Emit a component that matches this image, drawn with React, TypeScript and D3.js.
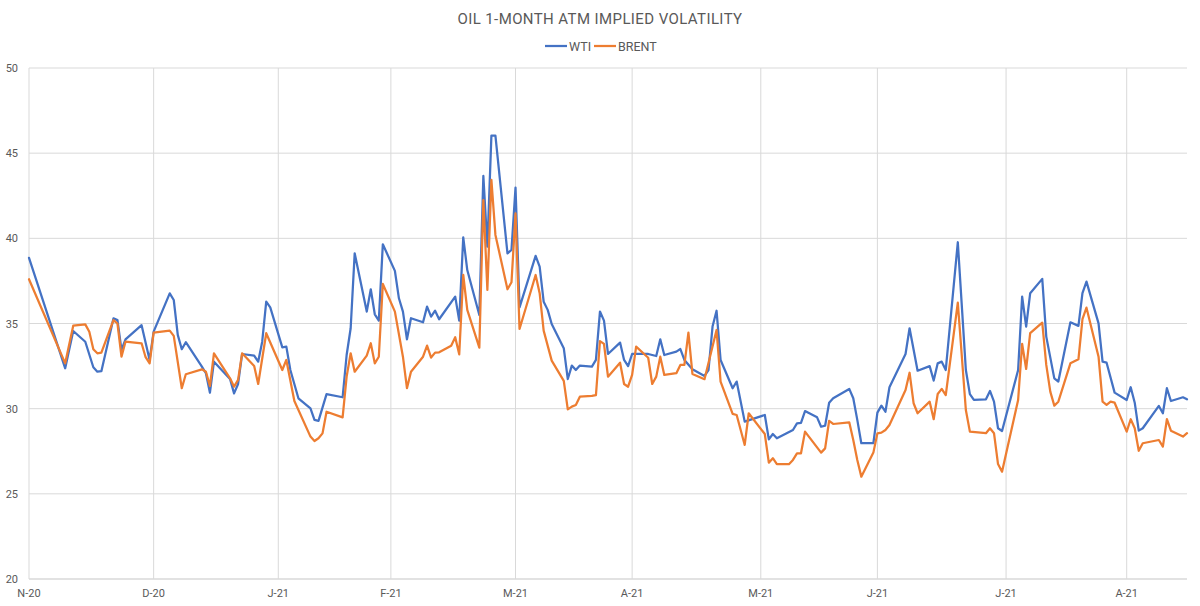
import React from "react";
import * as d3 from "d3";

// Trading-day offsets (calendar days from 1 Nov 2020) paired with 1M ATM implied vol, %
const WTI: [number, number][] = [
  [0, 38.85], [9, 32.37], [11, 34.56], [14, 33.93], [16, 32.43], [17, 32.17], [18, 32.2], [21, 35.3], [22, 35.2],
  [23, 33.45], [24, 34.07], [28, 34.9], [30, 32.86], [31, 34.52], [35, 36.77], [36, 36.38], [37, 34.33], [38, 33.49],
  [39, 33.9], [43, 32.47], [44, 32.08], [45, 30.94], [46, 32.76], [50, 31.74], [51, 30.9], [52, 31.45], [53, 33.21],
  [56, 33.11], [57, 32.76], [58, 33.93], [59, 36.28], [60, 35.95], [63, 33.6], [64, 33.64], [65, 32.27], [67, 30.61],
  [70, 30.02], [71, 29.34], [72, 29.28], [74, 30.85], [78, 30.67], [79, 33.15], [80, 34.72], [81, 39.12], [84, 35.7],
  [85, 37.01], [86, 35.54], [87, 35.17], [88, 39.65], [91, 38.09], [92, 36.48], [93, 35.7], [94, 34.07], [95, 35.31],
  [98, 35.07], [99, 35.99], [100, 35.4], [101, 35.75], [102, 35.25], [106, 36.58], [107, 35.17], [108, 40.06],
  [109, 38.14], [112, 35.5], [113, 43.66], [114, 39.51], [115, 46.03], [116, 46.03], [119, 39.12], [120, 39.32],
  [121, 42.98], [122, 35.95], [126, 38.97], [127, 38.34], [128, 36.28], [129, 35.8], [130, 34.97], [133, 33.55],
  [134, 31.74], [135, 32.53], [136, 32.27], [137, 32.53], [140, 32.47], [141, 32.86], [142, 35.7], [143, 35.17],
  [144, 33.21], [147, 33.88], [148, 32.86], [149, 32.5], [150, 33.21], [154, 33.21], [156, 33.09], [157, 34.07],
  [158, 33.15], [161, 33.35], [162, 33.5], [163, 32.86], [165, 32.31], [168, 31.92], [169, 32.27], [170, 34.82],
  [171, 35.75], [172, 32.86], [175, 31.2], [176, 31.59], [178, 29.24], [183, 29.63], [184, 28.2], [185, 28.51],
  [186, 28.26], [190, 28.75], [191, 29.14], [192, 29.17], [193, 29.86], [196, 29.49], [197, 28.94], [198, 29.0],
  [199, 30.35], [200, 30.61], [204, 31.16], [205, 30.61], [206, 29.34], [207, 27.97], [210, 27.97], [211, 29.77],
  [212, 30.18], [213, 29.82], [214, 31.26], [218, 33.21], [219, 34.72], [221, 32.23], [224, 32.5], [225, 31.65],
  [226, 32.66], [227, 32.76], [228, 32.27], [231, 39.77], [233, 32.27], [234, 30.85], [235, 30.51], [238, 30.55],
  [239, 31.04], [240, 30.41], [241, 28.85], [242, 28.69], [246, 32.27], [247, 36.58], [248, 34.82], [249, 36.78],
  [252, 37.62], [253, 34.23], [255, 31.78], [256, 31.59], [259, 35.07], [261, 34.86], [262, 36.78], [263, 37.46],
  [266, 35.01], [267, 32.76], [268, 32.7], [270, 30.94], [273, 30.51], [274, 31.26], [275, 30.35], [276, 28.71],
  [277, 28.85], [281, 30.16], [282, 29.73], [283, 31.2], [284, 30.45], [287, 30.67], [288, 30.55],
];

const BRENT: [number, number][] = [
  [0, 37.6], [9, 32.66], [11, 34.87], [14, 34.95], [15, 34.52], [16, 33.49], [17, 33.25], [18, 33.29], [21, 35.2],
  [22, 35.0], [23, 33.05], [24, 33.93], [28, 33.84], [29, 33.02], [30, 32.66], [31, 34.47], [35, 34.58], [36, 34.27],
  [38, 31.2], [39, 32.02], [43, 32.31], [44, 32.17], [45, 31.33], [46, 33.25], [50, 31.78], [51, 31.29], [52, 31.69],
  [53, 33.25], [56, 32.5], [57, 31.45], [59, 34.43], [63, 32.27], [64, 32.86], [66, 30.45], [70, 28.36], [71, 28.1],
  [72, 28.26], [73, 28.55], [74, 29.82], [78, 29.49], [79, 31.88], [80, 33.25], [81, 32.17], [84, 33.11], [85, 33.84],
  [86, 32.66], [87, 33.05], [88, 37.32], [91, 35.7], [93, 33.05], [94, 31.2], [95, 32.17], [98, 33.05], [99, 33.7],
  [100, 33.0], [101, 33.29], [102, 33.31], [105, 33.7], [106, 34.19], [107, 33.19], [108, 37.85], [109, 35.8],
  [112, 33.58], [113, 42.25], [114, 36.97], [115, 43.43], [116, 40.2], [119, 37.01], [120, 37.42], [121, 41.47],
  [122, 34.68], [126, 37.85], [127, 36.78], [128, 34.58], [130, 32.82], [133, 31.63], [134, 29.96], [135, 30.12],
  [136, 30.22], [137, 30.7], [140, 30.75], [141, 30.79], [142, 33.97], [143, 33.8], [144, 31.88], [147, 32.7],
  [148, 31.45], [149, 31.29], [150, 31.98], [151, 33.64], [154, 32.99], [155, 31.45], [156, 31.88], [157, 33.05],
  [158, 31.98], [161, 32.08], [162, 32.57], [163, 32.57], [164, 34.47], [165, 32.04], [168, 31.73], [171, 34.62],
  [172, 31.59], [175, 29.69], [176, 29.63], [178, 27.87], [179, 29.73], [183, 28.51], [184, 26.83], [185, 27.09],
  [186, 26.74], [189, 26.74], [190, 26.99], [191, 27.38], [192, 27.38], [193, 28.65], [197, 27.42], [198, 27.67],
  [199, 29.29], [200, 29.1], [204, 29.2], [205, 28.16], [206, 26.99], [207, 26.01], [210, 27.42], [211, 28.55],
  [212, 28.59], [213, 28.75], [214, 29.04], [218, 31.1], [219, 32.11], [220, 30.32], [221, 29.73], [224, 30.41],
  [225, 29.38], [226, 30.86], [227, 31.16], [228, 30.8], [231, 36.22], [233, 29.92], [234, 28.65], [238, 28.56],
  [239, 28.85], [240, 28.56], [241, 26.75], [242, 26.3], [246, 30.51], [247, 33.8], [248, 32.33], [249, 34.43],
  [252, 35.05], [253, 32.57], [254, 31.0], [255, 30.18], [256, 30.41], [259, 32.66], [261, 32.9], [262, 35.25],
  [263, 35.93], [266, 33.05], [267, 30.41], [268, 30.22], [269, 30.41], [270, 30.35], [273, 28.65], [274, 29.38],
  [275, 28.85], [276, 27.53], [277, 27.97], [281, 28.16], [282, 27.77], [283, 29.38], [284, 28.71], [287, 28.36],
  [288, 28.56],
];

// Month labels and the day offset where each one sits on the axis
const MONTH_LABELS = ["N-20", "D-20", "J-21", "F-21", "M-21", "A-21", "M-21", "J-21", "J-21", "A-21"];
const MONTH_DAYS = [0, 31, 62, 90, 121, 150, 182, 211, 243, 273];

const Y_TICKS = [20, 25, 30, 35, 40, 45, 50];

const SERIES = [
  { name: "WTI", data: WTI, color: "#4472C4" },
  { name: "BRENT", data: BRENT, color: "#ED7D31" },
];

const W = 1200;
const H = 606;
const FONT = "Roboto, 'Noto Sans', sans-serif";
const TEXT = "#595959";
const GRID = "#d9d9d9";

export default function App() {
  const x = d3.scaleLinear().domain([0, 288]).range([29, 1187]);
  const y = d3.scaleLinear().domain([20, 50]).range([579, 68]);

  const line = d3
    .line<[number, number]>()
    .x((d) => x(d[0]))
    .y((d) => y(d[1]));

  const legendY = 46;
  const legendItems = [
    { ...SERIES[0], x: 545 },
    { ...SERIES[1], x: 594 },
  ];

  return (
    <svg
      width={W}
      height={H}
      style={{ position: "absolute", left: 0, top: 0, background: "#fff" }}
      fontFamily={FONT}
    >
      <rect width={W} height={H} fill="#fff" />

      <text
        x={600}
        y={24}
        textAnchor="middle"
        fontSize={15}
        fill={TEXT}
        letterSpacing={0.4}
      >
        OIL 1-MONTH ATM IMPLIED VOLATILITY
      </text>

      {legendItems.map((s) => (
        <g key={s.name}>
          <line x1={s.x} x2={s.x + 22} y1={legendY} y2={legendY} stroke={s.color} strokeWidth={2.25} />
          <text x={s.x + 24} y={legendY + 4.5} fontSize={12.5} fill={TEXT}>
            {s.name}
          </text>
        </g>
      ))}

      {/* horizontal gridlines and value labels */}
      {Y_TICKS.map((t) => (
        <g key={t}>
          <line
            x1={x(0)}
            x2={x(288)}
            y1={y(t)}
            y2={y(t)}
            stroke={GRID}
            strokeWidth={t === 20 ? 1.5 : 1}
          />
          <text x={18} y={y(t) + 4} textAnchor="end" fontSize={11} fill={TEXT}>
            {t}
          </text>
        </g>
      ))}

      {/* month gridlines and labels */}
      {MONTH_DAYS.map((d, i) => (
        <g key={i}>
          <line x1={x(d)} x2={x(d)} y1={y(50)} y2={y(20)} stroke={GRID} strokeWidth={1} />
          <text x={x(d)} y={597} textAnchor="middle" fontSize={11} fill={TEXT}>
            {MONTH_LABELS[i]}
          </text>
        </g>
      ))}

      {SERIES.map((s) => (
        <path
          key={s.name}
          d={line(s.data) ?? ""}
          fill="none"
          stroke={s.color}
          strokeWidth={2.25}
          strokeLinejoin="round"
          strokeLinecap="round"
        />
      ))}
    </svg>
  );
}
